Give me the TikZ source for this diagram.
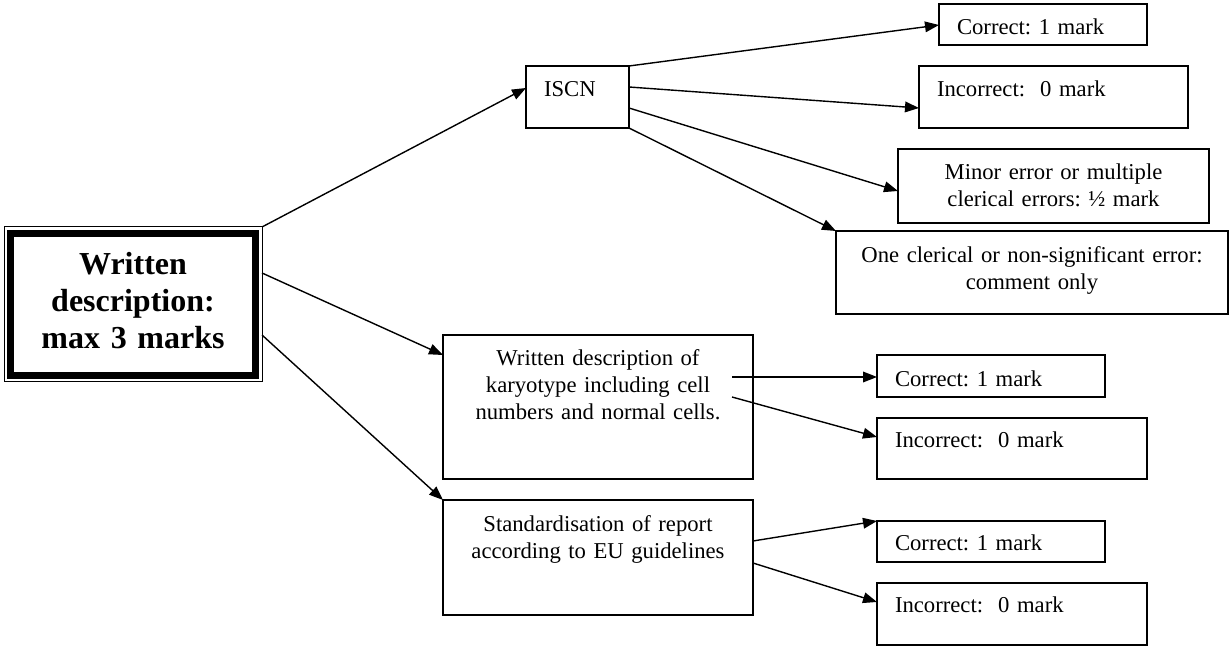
\documentclass[tikz,border=0pt]{standalone}
\usepackage{fontspec}
\setmainfont{Liberation Serif}
\usetikzlibrary{arrows.meta}
\newdimen\px \px=0.75pt
\frenchspacing
\begin{document}
\begin{tikzpicture}[x=0.75pt,y=-0.75pt,
  box/.style={draw,line width=1.5\px,anchor=north west,inner ysep=0pt,outer sep=0pt,font=\fontsize{17}{20}\selectfont},
  lbox/.style={box,inner xsep=18\px,align=left},
  cbox/.style={box,inner xsep=4\px,align=center},
  arr/.style={line width=1.4\px,-{Triangle[length=10.5pt,width=8pt]}}]
  \useasboundingbox (0,0) rectangle (1229,648);
  \node[box,line width=1\px,inner xsep=0pt,align=center,text width=258\px,text height=48\px,text depth=107\px,font=\fontsize{24}{27.75}\selectfont\bfseries] (main) at (4,227) {Written\\description:\\max 3 marks};
  \draw[line width=6.5\px] ([shift={(6.5,6.5)}]main.north west) rectangle ([shift={(-6.5,-6.5)}]main.south east);
  \node[lbox,text width=67\px,text height=31\px,text depth=31\px] (iscn) at (526,66) {ISCN};
  \node[lbox,text width=172\px,text height=31\px,text depth=10\px] (c1) at (939,4) {Correct: 1 mark};
  \node[lbox,text width=233\px,text height=31\px,text depth=31\px] (i1) at (919,66) {Incorrect:\ \ 0 mark};
  \node[cbox,text width=303\px,text height=31\px,text depth=43\px] (minor) at (898,149) {Minor error or multiple\\clerical errors: ½ mark};
  \node[cbox,text width=384\px,text height=32\px,text depth=51\px] (one) at (836,231) {One clerical or non-significant error:\\comment only};
  \node[cbox,text width=302\px,text height=31\px,text depth=113\px] (wd) at (443,335) {Written description of\\karyotype including cell\\numbers and normal cells.};
  \node[cbox,text width=302\px,text height=32\px,text depth=83\px] (std) at (443,500) {Standardisation of report\\according to EU guidelines};
  \node[lbox,text width=192\px,text height=32\px,text depth=10\px] (c2) at (877,355) {Correct: 1 mark};
  \node[lbox,text width=234\px,text height=30\px,text depth=31\px] (i2) at (877,418) {Incorrect:\ \ 0 mark};
  \node[lbox,text width=192\px,text height=30\px,text depth=11\px] (c3) at (877,521) {Correct: 1 mark};
  \node[lbox,text width=234\px,text height=30\px,text depth=32\px] (i3) at (877,583) {Incorrect:\ \ 0 mark};
  \draw[arr] (main.north east) -- ([yshift=-22\px]iscn.north west);
  \draw[arr] ([yshift=-46\px]main.north east) -- ([yshift=-20\px]wd.north west);
  \draw[arr] ([yshift=-108\px]main.north east) -- (std.north west);
  \draw[arr] (iscn.north east) -- ([yshift=-21\px]c1.north west);
  \draw[arr] ([yshift=-21\px]iscn.north east) -- ([yshift=-42\px]i1.north west);
  \draw[arr] ([yshift=-42\px]iscn.north east) -- ([yshift=-42\px]minor.north west);
  \draw[arr] (iscn.south east) -- (one.north west);
  \draw[arr] ([xshift=-21\px,yshift=-42\px]wd.north east) -- ([yshift=-22\px]c2.north west);
  \draw[arr] ([xshift=-21\px,yshift=-62\px]wd.north east) -- ([yshift=-19\px]i2.north west);
  \draw[arr] ([yshift=-41\px]std.north east) -- (c3.north west);
  \draw[arr] ([yshift=-63\px]std.north east) -- ([yshift=-19\px]i3.north west);
\end{tikzpicture}
\end{document}
